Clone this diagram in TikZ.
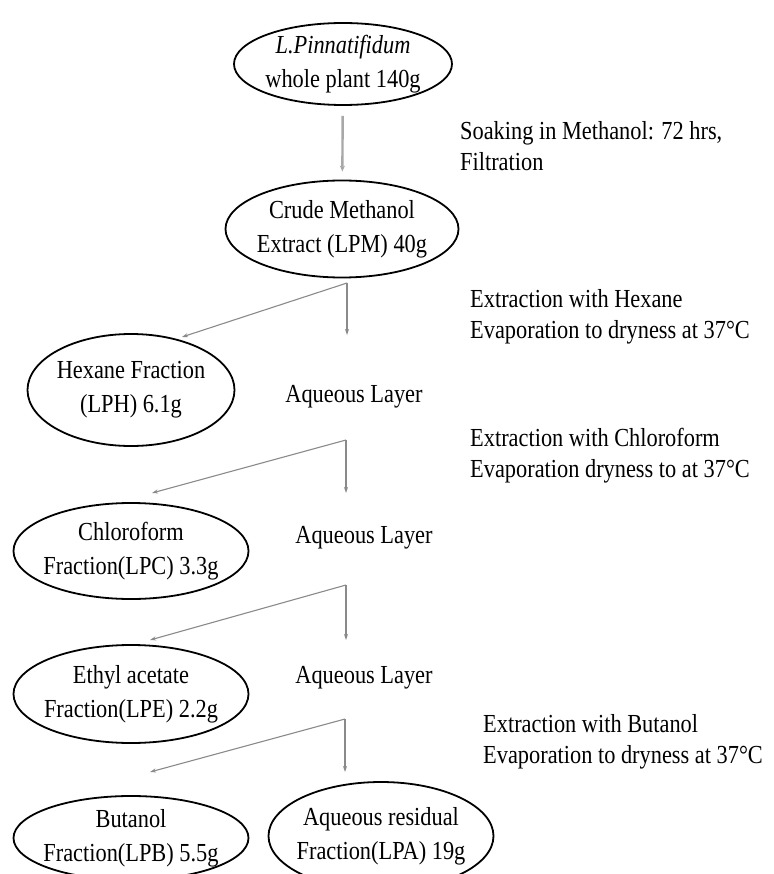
\documentclass[tikz,border=0pt]{standalone}
\usepackage{fontspec}
\setmainfont{Liberation Serif}[FakeStretch=0.86]
\usepackage{tikz}
\usetikzlibrary{shapes.geometric,arrows.meta,positioning}
\definecolor{flowgray}{HTML}{8A8A8A}
\definecolor{flowlight}{HTML}{A8A8A8}

\begin{document}
\begin{tikzpicture}[
    x=1pt, y=-1pt,
    frac/.style={ellipse, draw=black, line width=1.8pt, inner sep=-24pt, align=center, font=\fontsize{26}{34}\selectfont},
    note/.style={anchor=west, align=left, inner sep=0pt, font=\fontsize{26}{31}\selectfont},
    layer/.style={inner sep=0pt, font=\fontsize{26}{30}\selectfont},
    arr/.style={-{Stealth[length=6pt,width=4pt]}, line width=1.1pt, draw=flowgray},
    arrthick/.style={-{Stealth[length=6pt,width=5pt]}, line width=2.4pt, draw=flowlight}
]
    \useasboundingbox (0,0) rectangle (773,874);

    % Fractions
    \node (plant) [frac, minimum width=218pt, minimum height=82pt] at (343,64) {\textit{L.Pinnatifidum}\\whole plant 140g};
    \node (crude) [frac, minimum width=233pt, minimum height=97pt] at (342,229) {Crude Methanol\\Extract (LPM) 40g};
    \node (hex) [frac, minimum width=207pt, minimum height=112pt] at (131,390) {Hexane Fraction\\(LPH) 6.1g};
    \node (chl) [frac, minimum width=235pt, minimum height=96pt] at (131,551) {Chloroform\\Fraction(LPC) 3.3g};
    \node (eth) [frac, minimum width=235pt, minimum height=98pt] at (131,694) {Ethyl acetate\\Fraction(LPE) 2.2g};
    \node (but) [frac, minimum width=235pt, minimum height=84pt] at (131,838) {Butanol\\Fraction(LPB) 5.5g};
    \node (res) [frac, minimum width=225pt, minimum height=108pt] at (381,836) {Aqueous residual\\Fraction(LPA) 19g};

    % Aqueous layers
    \node (aq1) [layer] at (354,397) {Aqueous Layer};
    \node (aq2) [layer] at (364,538) {Aqueous Layer};
    \node (aq3) [layer] at (364,678) {Aqueous Layer};

    % Steps
    \node (soak) [note] at (460,146) {Soaking in Methanol: 72 hrs,\\Filtration};
    \node (hexnote) [note] at (470,317) {Extraction with Hexane\\Evaporation to dryness at 37°C};
    \node (chlnote) [note] at (470,456) {Extraction with Chloroform\\Evaporation dryness to at 37°C};
    \node (butnote) [note] at (483,742) {Extraction with Butanol\\Evaporation to dryness at 37°C};

    % Splits
    \coordinate (j1) at (347,283);
    \coordinate (v1) at (347,335);
    \coordinate (b1) at (182,337);
    \coordinate (j2) at (346,440);
    \coordinate (v2) at (346,493);
    \coordinate (b2) at (152,493);
    \coordinate (j3) at (346,585);
    \coordinate (v3) at (346,640);
    \coordinate (b3) at (150,640);
    \coordinate (j4) at (345,719);
    \coordinate (v4) at (345,772);
    \coordinate (b4) at (150,772);

    \draw [arrthick, shorten <=10pt, shorten >=8pt] (plant) -- (crude);
    \draw [arr] (j1) -- (v1);
    \draw [arr] (j1) -- (b1);
    \draw [arr] (j2) -- (v2);
    \draw [arr] (j2) -- (b2);
    \draw [arr] (j3) -- (v3);
    \draw [arr] (j3) -- (b3);
    \draw [arr] (j4) -- (v4);
    \draw [arr] (j4) -- (b4);
\end{tikzpicture}
\end{document}
